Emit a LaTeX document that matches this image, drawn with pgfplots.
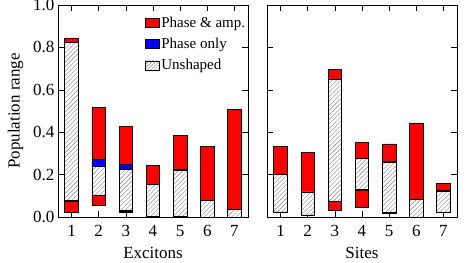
\documentclass[border=0pt]{standalone}
\usepackage{pgfplots}
\pgfplotsset{compat=1.18}
\usepackage{pgfplotstable}
\usepackage{fontspec}
\setmainfont{Liberation Serif}
\usetikzlibrary{patterns,patterns.meta}

% x: category, lo/hi: Phase & amp. range, blo/bhi: Phase only range, hlo/hhi: Unshaped range
\pgfplotstableread{
x lo    blo   hlo   hhi   bhi   hi
1 0.024 0.076 0.078 0.822 0.826 0.845
2 0.055 0.104 0.104 0.240 0.272 0.516
3 0.024 0.027 0.030 0.224 0.246 0.428
4 0.000 0.000 0.003 0.155 0.155 0.243
5 0.000 0.000 0.003 0.218 0.224 0.383
6 0.000 0.000 0.000 0.079 0.079 0.334
7 0.000 0.000 0.000 0.036 0.036 0.507
}\excitons

\pgfplotstableread{
x lo    blo   hlo   hhi   bhi   hi
1 0.020 0.022 0.024 0.202 0.203 0.331
2 0.009 0.009 0.010 0.118 0.118 0.305
3 0.030 0.072 0.075 0.648 0.650 0.695
4 0.044 0.124 0.130 0.275 0.279 0.353
5 0.018 0.018 0.020 0.260 0.264 0.345
6 0.000 0.000 0.000 0.083 0.083 0.444
7 0.020 0.024 0.024 0.122 0.125 0.160
}\sites

\pgfplotsset{
  rangeaxis/.style={
    ybar stacked, bar width=0.5,
    scale only axis, width=190pt, height=212pt,
    xmin=0.5, xmax=7.5, ymin=0, ymax=1,
    xtick={1,2,3,4,5,6,7},
    ytick={0,0.2,0.4,0.6,0.8,1.0},
    tick align=inside, major tick length=6pt,
    tick style={black, line width=0.6pt},
    axis line style={line width=0.8pt},
    /pgf/number format/assume math mode=true,
    tick label style={font=\fontsize{17}{20}\selectfont},
    label style={font=\fontsize{17}{20}\selectfont},
    yticklabel style={/pgf/number format/.cd, fixed, fixed zerofill, precision=1},
    xticklabel style={yshift=-4.5pt},
    xlabel style={yshift=-4pt},
  },
  redbar/.style={fill=red, draw=black, line width=0.7pt},
  bluebar/.style={fill=blue, draw=black, line width=0.7pt},
  hatchbar/.style={fill=white, draw=black, line width=0.7pt, postaction={pattern={Lines[angle=45, distance=3.2pt, line width=0.4pt]}, pattern color=gray}},
}

\begin{document}
\begin{tikzpicture}
\useasboundingbox (-58pt,-46pt) rectangle (409pt,217pt);
\begin{axis}[rangeaxis,
  xlabel={Excitons}, ylabel={Population range},
  ylabel style={xshift=0pt, yshift=3pt},
  legend style={at={(0.44,0.965)}, anchor=north west, draw=none, fill=none,
    font=\fontsize{15}{16}\selectfont, row sep=5.5pt},
  legend cell align=left,
  legend image code/.code={\draw[#1] (0pt,-4.5pt) rectangle (14pt,4.5pt);},
]
\addlegendimage{fill=red, draw=black, line width=0.6pt}
\addlegendentry{Phase \& amp.}
\addlegendimage{fill=blue, draw=black, line width=0.6pt}
\addlegendentry{Phase only}
\addlegendimage{fill=white, draw=black, line width=0.6pt, postaction={pattern={Lines[angle=45, distance=2.5pt, line width=0.4pt]}, pattern color=gray}}
\addlegendentry{Unshaped}
\addplot[draw=none, fill=none] table[x=x, y=lo]{\excitons};
\addplot[redbar] table[x=x, y expr=\thisrow{blo}-\thisrow{lo}]{\excitons};
\addplot[bluebar] table[x=x, y expr=\thisrow{hlo}-\thisrow{blo}]{\excitons};
\addplot[hatchbar] table[x=x, y expr=\thisrow{hhi}-\thisrow{hlo}]{\excitons};
\addplot[bluebar] table[x=x, y expr=\thisrow{bhi}-\thisrow{hhi}]{\excitons};
\addplot[redbar] table[x=x, y expr=\thisrow{hi}-\thisrow{bhi}]{\excitons};
\end{axis}
\begin{axis}[rangeaxis, at={(209pt,0pt)}, anchor=south west,
  xlabel={Sites}, yticklabels={},
]
\addplot[draw=none, fill=none] table[x=x, y=lo]{\sites};
\addplot[redbar] table[x=x, y expr=\thisrow{blo}-\thisrow{lo}]{\sites};
\addplot[bluebar] table[x=x, y expr=\thisrow{hlo}-\thisrow{blo}]{\sites};
\addplot[hatchbar] table[x=x, y expr=\thisrow{hhi}-\thisrow{hlo}]{\sites};
\addplot[bluebar] table[x=x, y expr=\thisrow{bhi}-\thisrow{hhi}]{\sites};
\addplot[redbar] table[x=x, y expr=\thisrow{hi}-\thisrow{bhi}]{\sites};
\end{axis}
\end{tikzpicture}
\end{document}
